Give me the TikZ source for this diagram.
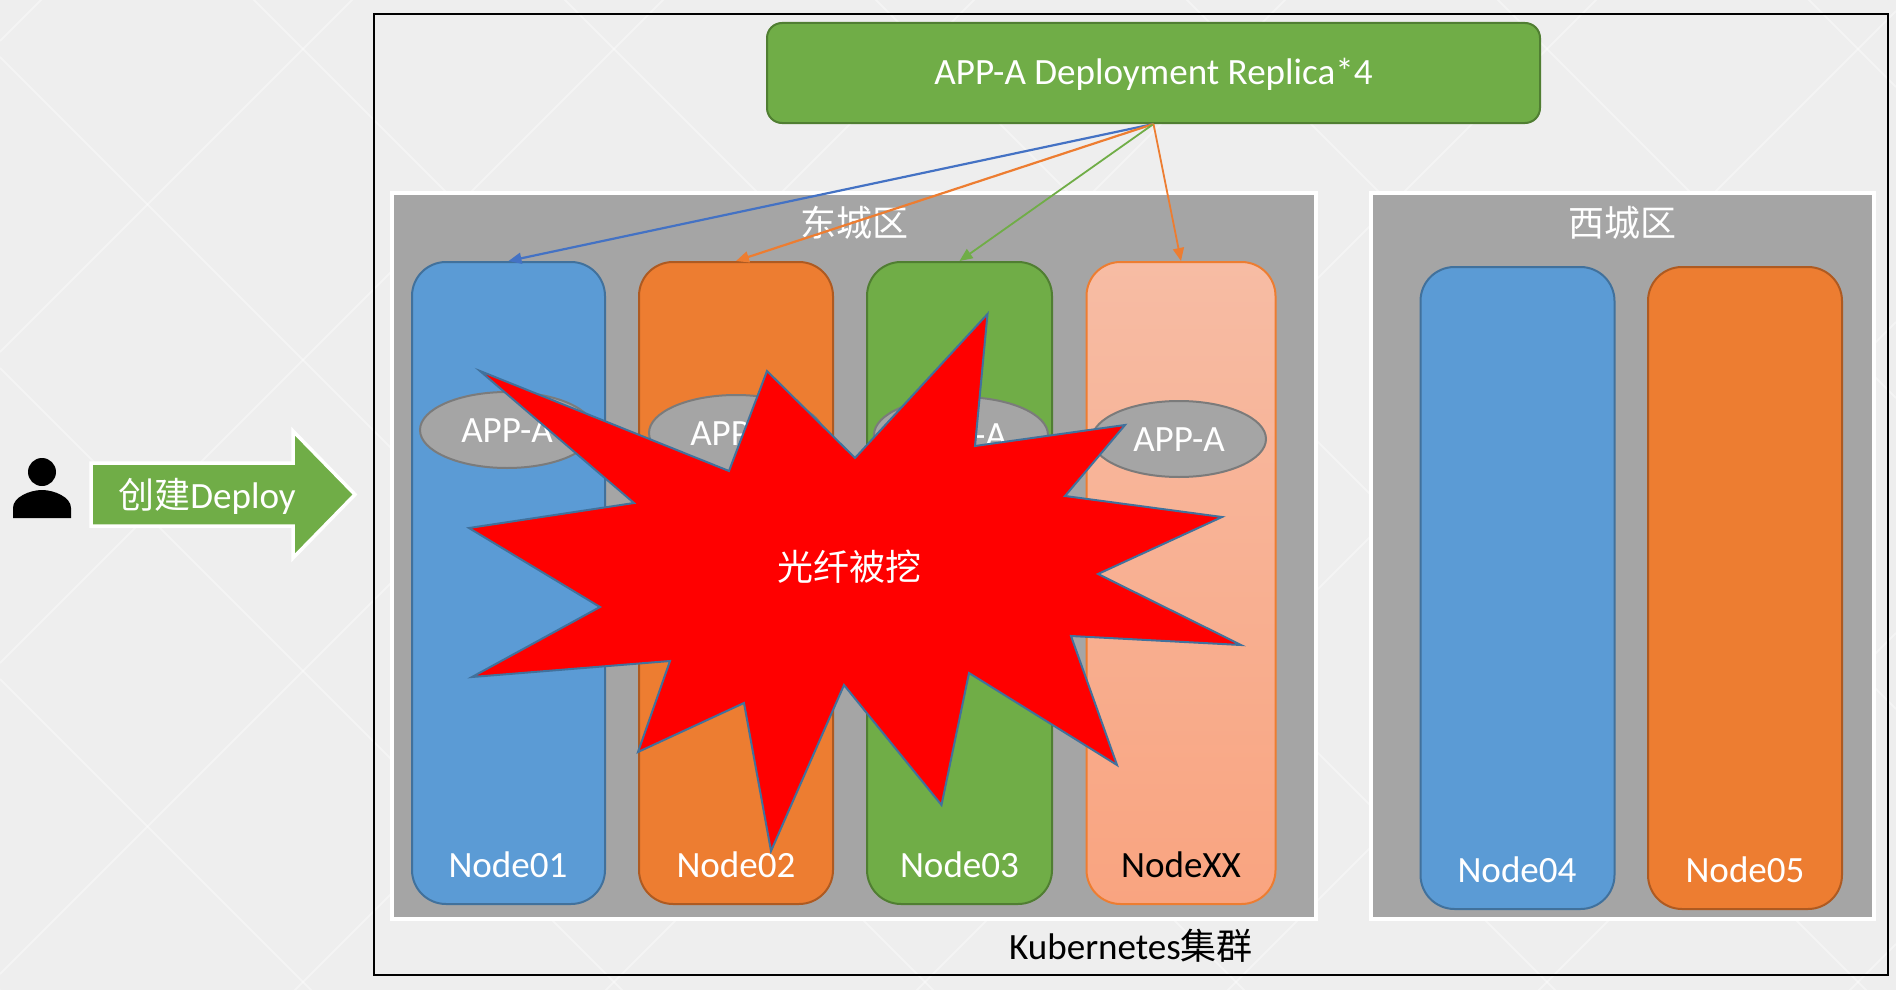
\documentclass[tikz,border=0pt]{standalone}
\usepackage{fontspec}
\setmainfont[Scale=1.03]{Carlito}
\newfontfamily\cjkfont{Noto Sans CJK SC}
\usetikzlibrary{arrows.meta,shapes.geometric}
\definecolor{bgc}{HTML}{EEEEEE}
\definecolor{zonec}{HTML}{A5A5A5}
\definecolor{ggreen}{HTML}{70AD47}
\definecolor{gblue}{HTML}{5B9BD5}
\definecolor{gorange}{HTML}{ED7D31}
\definecolor{dgreen}{HTML}{507E32}
\definecolor{dblue}{HTML}{41719C}
\definecolor{dorange}{HTML}{AE5A21}
\definecolor{peachtop}{HTML}{F7BCA4}
\definecolor{peachbot}{HTML}{F9A480}
\definecolor{ellc}{HTML}{7B7B7B}
\definecolor{linkblue}{HTML}{4472C4}
\newcommand{\lowered}[1]{\raisebox{-12pt}[0pt][0pt]{#1}}
\tikzset{
  txt/.style={font=\fontsize{36}{42}\selectfont,inner sep=0pt,text=white},
  zone/.style={draw=white,line width=4,fill=zonec,rectangle,inner sep=0pt},
  worker/.style={rectangle,rounded corners=34,line width=2,inner sep=0pt},
  appell/.style={ellipse,draw=ellc,fill=zonec,line width=2,inner sep=0pt,minimum width=174,minimum height=76,txt},
  link/.style={-{Triangle[length=13,width=11]}},
}
\begin{document}
\begin{tikzpicture}[x=1pt,y=-1pt]
\useasboundingbox (0,0) rectangle (1896,990);
\fill[bgc] (0,0) rectangle (1896,990);
% background lattice
\begin{scope}
\clip (0,0) rectangle (1896,990);
\foreach \k in {-7,...,4}{
  \draw[white,line width=1.5,opacity=.4] (0,57+311*\k) -- (1896,1953+311*\k);
}
\foreach \k in {-1,...,9}{
  \draw[white,line width=1.5,opacity=.4] (0,352+311*\k) -- (1896,-1544+311*\k);
}
\end{scope}
% cluster frame
\node[rectangle,draw=black,line width=2.5,inner sep=0pt,minimum width=1514,minimum height=961] (cluster) at (1131,494.5) {};
% zones
\node[zone,minimum width=924,minimum height=726] (east) at (854,556) {};
\node[zone,minimum width=503,minimum height=726] (west) at (1622.5,556) {};
% top box
\node[rectangle,rounded corners=15,draw=dgreen,fill=ggreen,line width=2,inner sep=0pt,minimum width=773,minimum height=100,txt] (deploy) at (1153.5,73) {\lowered{APP-A Deployment Replica*4}};
% workers
\node[worker,draw=dblue,fill=gblue,minimum width=193,minimum height=642] (n1) at (508.5,583) {};
\node[worker,draw=dorange,fill=gorange,minimum width=194,minimum height=642] (n2) at (736,583) {};
\node[worker,draw=dgreen,fill=ggreen,minimum width=185,minimum height=642] (n3) at (959.5,583) {};
\node[worker,draw=gorange,top color=peachtop,bottom color=peachbot,minimum width=189,minimum height=642] (nx) at (1181,583) {};
\node[worker,draw=dblue,fill=gblue,minimum width=194,minimum height=642] (n4) at (1517.5,588) {};
\node[worker,draw=dorange,fill=gorange,minimum width=194,minimum height=642] (n5) at (1745,588) {};
% worker labels
\node[txt] (l1) at (508,865) {Node01};
\node[txt] (l2) at (736,865) {Node02};
\node[txt] (l3) at (959.5,865) {Node03};
\node[txt,text=black] (lx) at (1181,865) {NodeXX};
\node[txt] (l4) at (1517,870) {Node04};
\node[txt] (l5) at (1745,870) {Node05};
% zone labels
\node[txt] (te) at (854,223) {\cjkfont 东城区};
\node[txt] (tw) at (1622,223) {\cjkfont 西城区};
\node[txt,text=black] (tk) at (1131,946) {Kubernetes{\cjkfont 集群}};
% app ellipses
\node[appell] (a1) at (507,430) {\lowered{APP-A}};
\node[appell] (a2) at (736,433) {\lowered{APP-A}};
\node[appell] (a3) at (961,435) {\lowered{APP-A}};
\node[appell] (ax) at (1179,439) {\lowered{APP-A}};
% connectors
\draw[link,linkblue,line width=2.2] (deploy.south) -- (n1.north);
\draw[link,gorange,line width=2.2] (deploy.south) -- (n2.north);
\draw[link,ggreen,line width=1.8] (deploy.south) -- (n3.north);
\draw[link,gorange,line width=1.8] (deploy.south) -- (nx.north);
% explosion
\draw[fill=red,draw=dblue,line width=2,line join=miter,miter limit=20]
 (480,371) -- (729,471) -- (767,371) -- (855,458) -- (987.5,314) -- (975,446)
 -- (1125,425) -- (1065,496) -- (1222,517) -- (1098,574) -- (1241,645) -- (1071,636)
 -- (1117,765) -- (969,673) -- (941.5,805) -- (844,685) -- (771,851) -- (744,703)
 -- (638,752) -- (670,661) -- (472,677) -- (600,607) -- (469,528) -- (634,503) -- cycle;
\node[txt] (boom) at (849,567) {\cjkfont 光纤被挖};
% person
\fill[black] (42,472) circle (14);
\fill[black] (13,518) -- (13,508) .. controls (13,497) and (30,490) .. (42,490)
  .. controls (54,490) and (71,497) .. (71,508) -- (71,518) -- cycle;
% create arrow
\draw[fill=ggreen,draw=white,line width=3.5,line join=miter]
 (91,463) -- (293,463) -- (293,431) -- (355,494.5) -- (293,558) -- (293,526) -- (91,526) -- cycle;
\node[txt] (create) at (207,496) {{\cjkfont 创建}Deploy};
\end{tikzpicture}
\end{document}
